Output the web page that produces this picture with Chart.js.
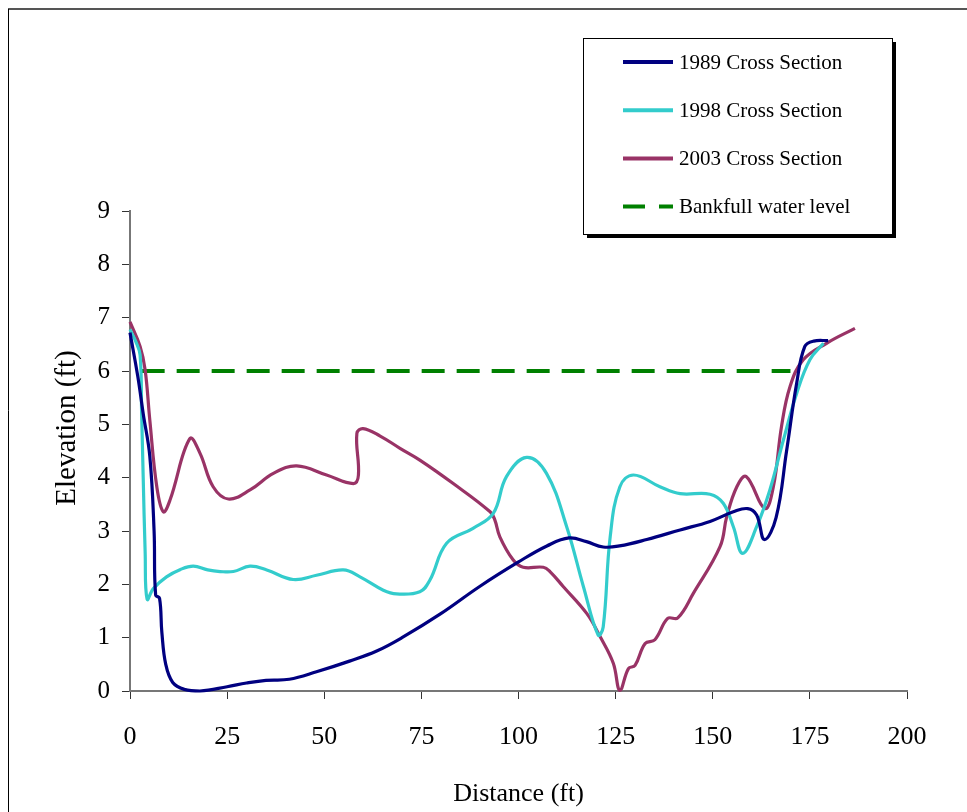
<!DOCTYPE html>
<html>
<head>
<meta charset="utf-8">
<script src="https://cdn.jsdelivr.net/npm/chart.js@4.4.1/dist/chart.umd.min.js"></script>
<style>
  html, body { margin: 0; padding: 0; background: #fff; }
  canvas { display: block; }
</style>
</head>
<body>
<canvas id="chart" width="967" height="812"></canvas>
<script>
// cross section survey points
const dist1989 = [0, 2, 3.4, 5.1, 6.2, 6.6, 7.6, 8.2, 9.2, 11, 14, 18, 25, 30, 35, 41, 48, 56.5, 63.5, 70, 80, 90, 100, 107.3, 113, 117.5, 121.8, 126, 133, 141.6, 149.3, 155.3, 159, 161.3, 163.3, 166.3, 169, 171.6, 173.7, 176, 179.7];
const elev1989 = [6.72, 5.9, 5.2, 4.4, 3.0, 1.8, 1.74, 1.1, 0.5, 0.16, 0.03, 0.0, 0.08, 0.15, 0.2, 0.22, 0.36, 0.56, 0.75, 1.0, 1.45, 1.96, 2.42, 2.72, 2.87, 2.8, 2.7, 2.72, 2.84, 3.02, 3.18, 3.36, 3.42, 3.3, 2.84, 3.25, 4.5, 5.77, 6.46, 6.56, 6.57];

const dist1998 = [0, 1.5, 2.6, 3.0, 3.4, 3.9, 4.4, 6, 9.4, 13, 16.3, 20, 23.2, 26.6, 30.9, 35.2, 42, 48, 54.9, 59.2, 65.2, 68.6, 74.6, 77.2, 81.5, 88.3, 93.5, 96.9, 102.1, 107.2, 112.4, 116.7, 120.5, 121.8, 123.6, 126.1, 129.6, 136.4, 141.6, 149.3, 152.7, 155.3, 157.7, 161.3, 164.7, 168.2, 171.6, 175, 178.5];
const elev1998 = [6.78, 6.55, 6.3, 5.2, 4.0, 2.6, 1.72, 1.92, 2.14, 2.28, 2.34, 2.27, 2.24, 2.24, 2.34, 2.27, 2.09, 2.17, 2.27, 2.14, 1.89, 1.82, 1.86, 2.08, 2.77, 3.05, 3.33, 4.02, 4.38, 4.08, 3.08, 1.96, 1.05, 1.2, 2.89, 3.83, 4.05, 3.83, 3.7, 3.69, 3.52, 3.08, 2.58, 3.08, 3.77, 4.71, 5.58, 6.21, 6.52];

const dist2003 = [0, 2.6, 3.9, 5.1, 6.9, 8.6, 10.3, 15.4, 18, 21.4, 25.3, 30.9, 36.9, 42.9, 50.6, 57.5, 58.8, 58.4, 60, 64.4, 69.5, 74.6, 83.2, 92.7, 93.9, 95.2, 98.6, 101.2, 106.4, 108.1, 111.5, 117.6, 121, 124.4, 126.1, 128.3, 130, 132.6, 135.1, 138.4, 141, 145, 151.9, 153.6, 156.2, 158.6, 163.4, 165.6, 167.7, 169.9, 173.3, 179.3, 186.6];
const elev2003 = [6.92, 6.46, 6.02, 5.08, 3.83, 3.36, 3.58, 4.73, 4.46, 3.83, 3.6, 3.77, 4.08, 4.22, 4.05, 3.89, 4.05, 4.83, 4.92, 4.78, 4.55, 4.33, 3.89, 3.36, 3.21, 2.89, 2.46, 2.32, 2.32, 2.24, 1.96, 1.45, 1.02, 0.52, 0.01, 0.42, 0.48, 0.89, 0.96, 1.36, 1.37, 1.83, 2.71, 3.27, 3.83, 4.02, 3.42, 3.83, 4.96, 5.71, 6.21, 6.52, 6.8];

const distBankfull = [3, 170];
const elevBankfull = [6, 6];

const xTicks = [0, 25, 50, 75, 100, 125, 150, 175, 200];
const yTicks = [0, 1, 2, 3, 4, 5, 6, 7, 8, 9];

const serif = "'Liberation Serif', 'Times New Roman', serif";

function pts(xs, ys) {
  return xs.map((x, i) => ({ x: x, y: ys[i] }));
}

// outer frame + y title
const framePlugin = {
  id: 'framePlugin',
  beforeDraw(chart) {
    const ctx = chart.ctx;
    ctx.save();
    ctx.fillStyle = '#fff';
    ctx.fillRect(0, 0, chart.width, chart.height);
    ctx.strokeStyle = '#555';
    ctx.lineWidth = 2;
    ctx.beginPath();
    ctx.moveTo(8, 9);
    ctx.lineTo(chart.width, 9);
    ctx.stroke();
    ctx.strokeStyle = '#000';
    ctx.lineWidth = 1;
    ctx.beginPath();
    ctx.moveTo(8.5, 9);
    ctx.lineTo(8.5, chart.height);
    ctx.stroke();
    ctx.restore();
  },
  afterDraw(chart) {
    const ctx = chart.ctx;
    ctx.save();
    ctx.translate(67, 428);
    ctx.rotate(-Math.PI / 2);
    ctx.font = '29px ' + serif;
    ctx.fillStyle = '#000';
    ctx.textAlign = 'center';
    ctx.textBaseline = 'middle';
    ctx.fillText('Elevation (ft)', 0, 0);
    ctx.restore();
  }
};

// boxed legend with drop shadow
const boxLegend = {
  id: 'boxLegend',
  afterDraw(chart) {
    const ctx = chart.ctx;
    const bx = 583, by = 38, bw = 309, bh = 196;
    ctx.save();
    ctx.fillStyle = '#000';
    ctx.fillRect(bx + 4, by + 4, bw, bh);
    ctx.fillStyle = '#fff';
    ctx.fillRect(bx, by, bw, bh);
    ctx.strokeStyle = '#000';
    ctx.lineWidth = 1;
    ctx.strokeRect(bx + 0.5, by + 0.5, bw, bh);
    ctx.font = '21px ' + serif;
    ctx.textBaseline = 'middle';
    ctx.textAlign = 'left';
    chart.data.datasets.forEach((ds, i) => {
      const cy = 62 + i * 48.2;
      ctx.strokeStyle = ds.borderColor;
      ctx.lineWidth = 4;
      ctx.setLineDash(ds.borderDash ? [22, 14] : []);
      ctx.beginPath();
      ctx.moveTo(623, cy);
      ctx.lineTo(673, cy);
      ctx.stroke();
      ctx.setLineDash([]);
      ctx.fillStyle = '#000';
      ctx.fillText(ds.label, 679, cy + 1);
    });
    ctx.restore();
  }
};

const ctx = document.getElementById('chart').getContext('2d');

new Chart(ctx, {
  type: 'scatter',
  data: {
    datasets: [
      { label: '1989 Cross Section', data: pts(dist1989, elev1989), borderColor: '#000080', borderWidth: 3.2, showLine: true },
      { label: '1998 Cross Section', data: pts(dist1998, elev1998), borderColor: '#33CCCC', borderWidth: 3.2, showLine: true },
      { label: '2003 Cross Section', data: pts(dist2003, elev2003), borderColor: '#993366', borderWidth: 3.2, showLine: true },
      { label: 'Bankfull water level', data: pts(distBankfull, elevBankfull), borderColor: '#008000', borderWidth: 4, borderDash: [23, 12], showLine: true, tension: 0 }
    ]
  },
  options: {
    responsive: false,
    animation: false,
    devicePixelRatio: 1,
    layout: { padding: { top: 211, right: 60, left: 0, bottom: 0 } },
    plugins: { legend: { display: false }, tooltip: { enabled: false } },
    elements: { point: { radius: 0 }, line: { tension: 0.4 } },
    datasets: { scatter: { clip: false } },
    scales: {
      x: {
        type: 'linear',
        min: 0,
        max: 200,
        afterBuildTicks: s => { s.ticks = xTicks.map(v => ({ value: v })); },
        afterFit: s => { s.height = 121; },
        ticks: { color: '#000', font: { family: serif, size: 26 }, padding: 23, maxRotation: 0 },
        grid: { drawOnChartArea: false, drawTicks: true, tickLength: 8, color: '#333' },
        border: { color: '#777', width: 2 },
        title: { display: true, text: 'Distance (ft)', color: '#000', font: { family: serif, size: 26 }, padding: { top: 0, bottom: 2 } }
      },
      y: {
        type: 'linear',
        min: 0,
        max: 9,
        afterBuildTicks: s => { s.ticks = yTicks.map(v => ({ value: v })); },
        afterFit: s => { s.width = 130; },
        ticks: { color: '#000', font: { family: serif, size: 25 }, padding: 12 },
        grid: { drawOnChartArea: false, drawTicks: true, tickLength: 8, color: '#333' },
        border: { color: '#777', width: 2 }
      }
    }
  },
  plugins: [framePlugin, boxLegend]
});
</script>
</body>
</html>
